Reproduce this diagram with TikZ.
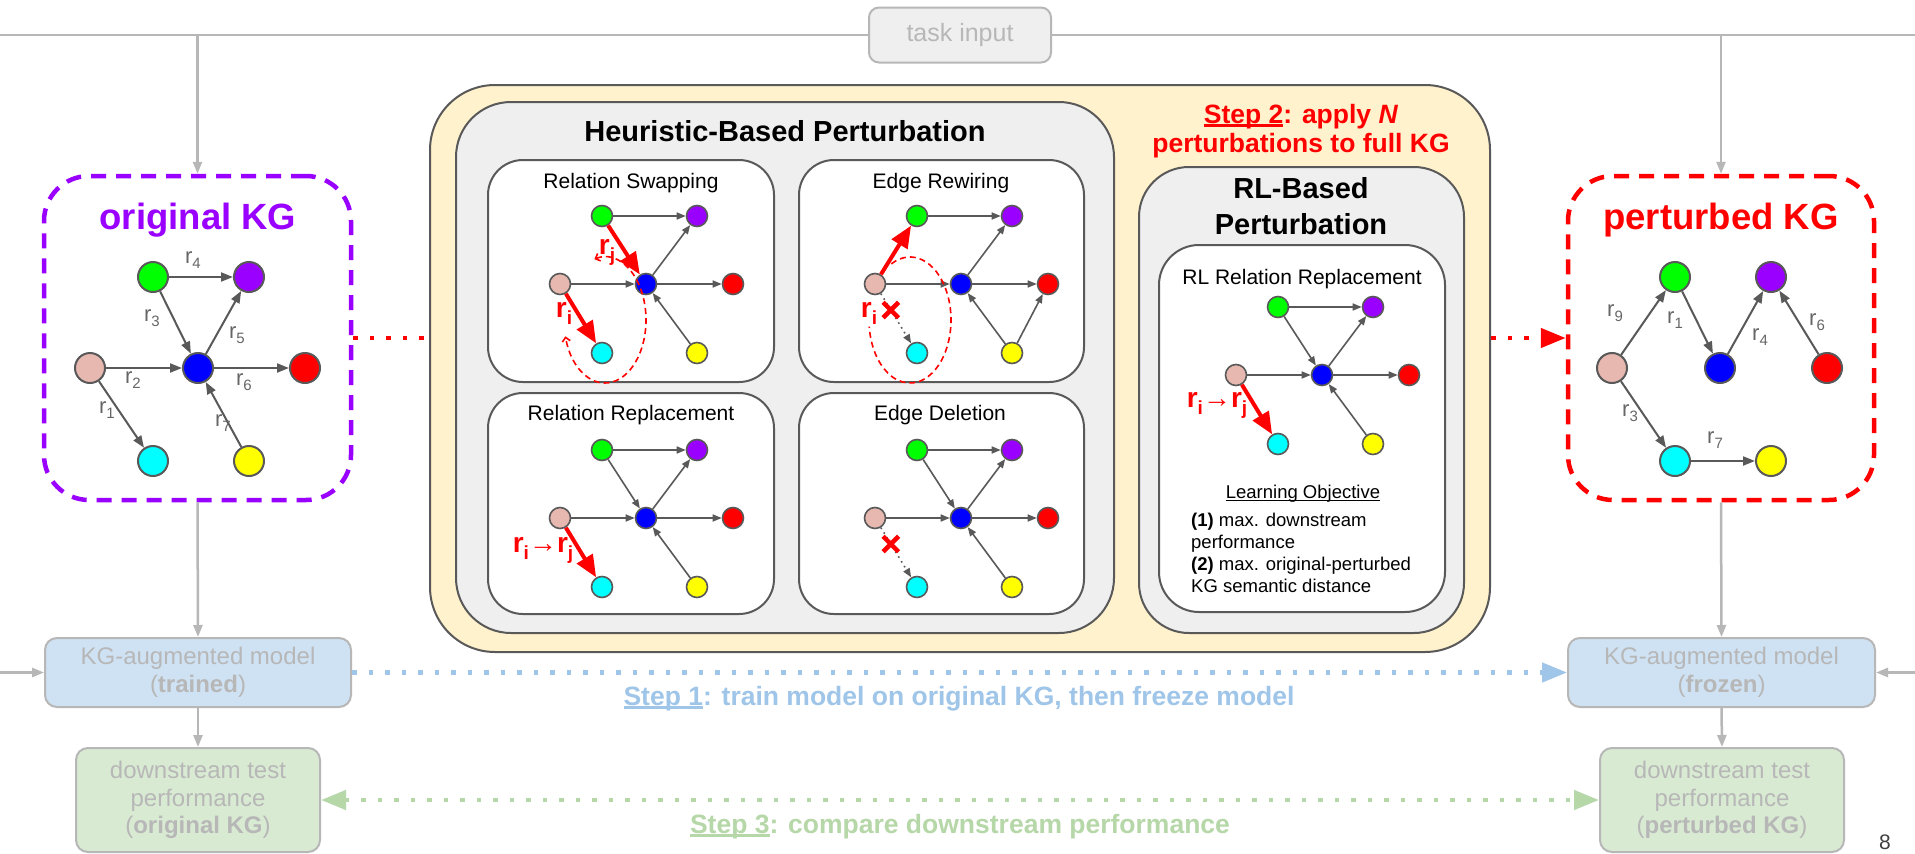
\documentclass[tikz,border=0pt]{standalone}
\usepackage{fontspec}
\setmainfont{Liberation Sans}
\usetikzlibrary{arrows.meta,shapes.misc}

\definecolor{kggreen}{HTML}{00FF00}
\definecolor{kgpurple}{HTML}{9900FF}
\definecolor{kgpink}{HTML}{E6B8AF}
\definecolor{kgblue}{HTML}{0000FF}
\definecolor{kgred}{HTML}{FF0000}
\definecolor{kgcyan}{HTML}{00FFFF}
\definecolor{kgyellow}{HTML}{FFFF00}
\definecolor{edgegray}{HTML}{595959}
\definecolor{labelgray}{HTML}{666666}
\definecolor{flowgray}{HTML}{B7B7B7}
\definecolor{stagefill}{HTML}{FFF2CC}
\definecolor{panelfill}{HTML}{EFEFEF}
\definecolor{modelfill}{HTML}{CFE2F3}
\definecolor{perffill}{HTML}{D9EAD3}
\definecolor{stepblue}{HTML}{9FC5E8}
\definecolor{stepgreen}{HTML}{B6D7A8}
\definecolor{pagegray}{HTML}{404040}

% relation labels with a lowered index
\newcommand{\grel}[1]{r\raisebox{-5pt}{\fontsize{15}{15}\selectfont #1}}
\newcommand{\rrel}[1]{r\raisebox{-7pt}{\fontsize{19}{19}\selectfont #1}}
% underline: thickness, drop, text
\newcommand{\ulbar}[3]{\setbox0\hbox{#3}\rlap{\rule[-#2]{\wd0}{#1}}\box0}

% small seven-entity graph centred on its blue entity
\newcommand{\minigraph}[3]{%
  \node[minode,fill=kggreen]  (#1green)  at (#2-44,#3-68) {};
  \node[minode,fill=kgpurple] (#1purple) at (#2+51,#3-68) {};
  \node[minode,fill=kgpink]   (#1pink)   at (#2-86,#3) {};
  \node[minode,fill=kgblue]   (#1blue)   at (#2,#3) {};
  \node[minode,fill=kgred]    (#1red)    at (#2+87,#3) {};
  \node[minode,fill=kgcyan]   (#1cyan)   at (#2-44,#3+69) {};
  \node[minode,fill=kgyellow] (#1yellow) at (#2+51,#3+69) {};
}
% large seven-entity graph centred on its blue entity
\newcommand{\kggraph}[3]{%
  \node[kgnode,fill=kggreen]  (#1green)  at (#2-45,#3-91) {};
  \node[kgnode,fill=kgpurple] (#1purple) at (#2+51,#3-91) {};
  \node[kgnode,fill=kgpink]   (#1pink)   at (#2-108,#3) {};
  \node[kgnode,fill=kgblue]   (#1blue)   at (#2,#3) {};
  \node[kgnode,fill=kgred]    (#1red)    at (#2+107,#3) {};
  \node[kgnode,fill=kgcyan]   (#1cyan)   at (#2-45,#3+93) {};
  \node[kgnode,fill=kgyellow] (#1yellow) at (#2+51,#3+93) {};
}

\begin{document}
\begin{tikzpicture}[x=1pt,y=-1pt,
  panel/.style={draw=edgegray,line width=2pt,inner sep=0pt},
  subpanel/.style={panel,fill=white,rounded corners=35pt},
  paneltitle/.style={font=\fontsize{29}{34}\selectfont\bfseries,inner sep=0pt,anchor=base},
  subtitle/.style={font=\fontsize{21}{25}\selectfont,inner sep=0pt,anchor=base},
  kgframe/.style={line width=4.5pt,dash pattern=on 15pt off 10pt,rounded corners=45pt,minimum width=307pt,minimum height=324pt,inner sep=0pt},
  kgtitle/.style={font=\fontsize{36.5}{40}\selectfont\bfseries,inner sep=0pt,anchor=base},
  kgnode/.style={circle,draw=edgegray,line width=2pt,minimum size=30pt,inner sep=0pt},
  minode/.style={circle,draw=edgegray,line width=1.6pt,minimum size=21pt,inner sep=0pt},
  kgedge/.style={draw=edgegray,line width=2pt,-{Triangle[length=12pt,width=9pt]}},
  miedge/.style={draw=edgegray,line width=1.6pt,-{Triangle[length=9pt,width=7pt]}},
  rededge/.style={draw=kgred,line width=4pt,-{Triangle[length=22pt,width=18pt]}},
  deledge/.style={draw=edgegray,line width=1.6pt,dash pattern=on 1.6pt off 4pt,-{Triangle[length=9pt,width=7pt]}},
  xmark/.style={cross out,draw=kgred,line width=4.5pt,minimum size=11pt,inner sep=0pt,solid},
  redarc/.style={draw=kgred,line width=1.6pt,dash pattern=on 6pt off 4pt},
  glabel/.style={text=labelgray,font=\fontsize{22}{22}\selectfont,inner sep=0pt},
  rlabel/.style={text=kgred,font=\fontsize{28}{28}\selectfont\bfseries,inner sep=0pt},
  flowline/.style={draw=flowgray,line width=2.5pt},
  flowarrow/.style={flowline,-{Triangle[length=12pt,width=9pt]}},
  flowbox/.style={draw=flowgray,line width=2pt,rounded corners=12pt,align=center,text=flowgray,inner sep=0pt},
  dotrule/.style={line width=4.5pt,dash pattern=on 4.5pt off 12pt},
  bigtip/.style={-{Triangle[length=25pt,width=19pt]}},
  steptext/.style={font=\fontsize{26.5}{30}\selectfont\bfseries,inner sep=0pt,anchor=base},
  objtext/.style={font=\fontsize{18.5}{22}\selectfont,inner sep=0pt,anchor=base west}
]
\fill[white] (0,0) rectangle (1915,854);
\useasboundingbox (0,0) rectangle (1915,854);

% ---- task input and shared feed line ----
\node[flowbox,fill=panelfill,rounded corners=10pt,minimum width=182pt,minimum height=55pt,font=\fontsize{25}{30}\selectfont] (task) at (960,35) {task input};
\coordinate (feedL) at (0,35);
\coordinate (feedR) at (1915,35);
\draw[flowline] (task.west) -- (feedL);
\draw[flowline] (task.east) -- (feedR);

% ---- perturbation stage ----
\node[panel,fill=stagefill,minimum width=1060pt,minimum height=567pt,rounded corners=65pt] (stage) at (960,368.5) {};
\node[panel,fill=panelfill,minimum width=658pt,minimum height=531pt,rounded corners=55pt] (heur) at (785,367.5) {};
\node[panel,fill=panelfill,minimum width=325pt,minimum height=466pt,rounded corners=50pt] (rlpanel) at (1301.5,400) {};
\node[paneltitle] (heurtitle) at (785,141) {Heuristic-Based Perturbation};
\node[paneltitle] (rltitleA) at (1301,198) {RL-Based};
\node[paneltitle] (rltitleB) at (1301,234) {Perturbation};
\node[steptext,text=kgred] (step2a) at (1301,123) {\ulbar{2.5pt}{3.5pt}{Step 2}: apply \textit{N}};
\node[steptext,text=kgred] (step2b) at (1301,152) {perturbations to full KG};

\node[subpanel,minimum width=286pt,minimum height=222pt] (swapbox) at (631,271) {};
\node[subpanel,minimum width=285pt,minimum height=222pt] (rewirebox) at (941.5,271) {};
\node[subpanel,minimum width=286pt,minimum height=221pt] (replbox) at (631,503.5) {};
\node[subpanel,minimum width=285pt,minimum height=221pt] (delbox) at (941.5,503.5) {};
\node[subpanel,rounded corners=40pt,minimum width=286pt,minimum height=367pt] (rlbox) at (1302,428.5) {};
\node[subtitle] (swaptitle) at (631,188) {Relation Swapping};
\node[subtitle] (rewiretitle) at (941,188) {Edge Rewiring};
\node[subtitle] (repltitle) at (631,420) {Relation Replacement};
\node[subtitle] (deltitle) at (940,420) {Edge Deletion};
\node[subtitle] (rltitle) at (1302,284) {RL Relation Replacement};

% relation swapping
\minigraph{rs}{646}{284}
\draw[miedge] (rsgreen) -- (rspurple);
\draw[rededge] (rsgreen) -- (rsblue);
\draw[miedge] (rsblue) -- (rspurple);
\draw[miedge] (rspink) -- (rsblue);
\draw[miedge] (rsblue) -- (rsred);
\draw[rededge] (rspink) -- (rscyan);
\draw[miedge] (rsyellow) -- (rsblue);
\coordinate (rsring) at (605,320);
\draw[redarc,{Straight Barb[length=4pt,width=8pt]}-{Straight Barb[length=4pt,width=8pt]}] ([shift={(105:41pt and 63pt)}]rsring) arc[start angle=105,end angle=-165,x radius=41pt,y radius=63pt];
\node[rlabel] (rsj) at (607,252) {\rrel{j}};
\node[rlabel] (rsi) at (564,313) {\rrel{i}};

% edge rewiring
\minigraph{er}{961}{284}
\draw[miedge] (ergreen) -- (erpurple);
\draw[miedge] (erblue) -- (erpurple);
\draw[miedge] (erpink) -- (erblue);
\draw[miedge] (erblue) -- (erred);
\draw[miedge] (eryellow) -- (erblue);
\draw[miedge] (eryellow) -- (erred);
\draw[rededge] (erpink) -- (ergreen);
\draw[deledge] (erpink) -- node[xmark,pos=0.33] (erx) {} (ercyan);
\coordinate (erring) at (910,320);
\draw[redarc] ([shift={(117:41pt and 63pt)}]erring) arc[start angle=117,end angle=-174,x radius=41pt,y radius=63pt];
\node[rlabel] (eri) at (869,313) {\rrel{i}};

% relation replacement
\minigraph{rr}{646}{518}
\draw[miedge] (rrgreen) -- (rrpurple);
\draw[miedge] (rrgreen) -- (rrblue);
\draw[miedge] (rrblue) -- (rrpurple);
\draw[miedge] (rrpink) -- (rrblue);
\draw[miedge] (rrblue) -- (rrred);
\draw[rededge] (rrpink) -- (rrcyan);
\draw[miedge] (rryellow) -- (rrblue);
\node[rlabel] (rrij) at (543,550) {\rrel{i}{\mdseries →}\rrel{j}};

% edge deletion
\minigraph{ed}{961}{518}
\draw[miedge] (edgreen) -- (edpurple);
\draw[miedge] (edgreen) -- (edblue);
\draw[miedge] (edblue) -- (edpurple);
\draw[miedge] (edpink) -- (edblue);
\draw[miedge] (edblue) -- (edred);
\draw[miedge] (edyellow) -- (edblue);
\draw[deledge] (edpink) -- node[xmark,pos=0.33] (edx) {} (edcyan);

% RL relation replacement
\minigraph{rl}{1322}{375}
\draw[miedge] (rlgreen) -- (rlpurple);
\draw[miedge] (rlgreen) -- (rlblue);
\draw[miedge] (rlblue) -- (rlpurple);
\draw[miedge] (rlpink) -- (rlblue);
\draw[miedge] (rlblue) -- (rlred);
\draw[rededge] (rlpink) -- (rlcyan);
\draw[miedge] (rlyellow) -- (rlblue);
\node[rlabel] (rlij) at (1217,405) {\rrel{i}{\mdseries →}\rrel{j}};
\node[font=\fontsize{18.5}{22}\selectfont,inner sep=0pt,anchor=base] (objhead) at (1303,498) {\ulbar{1.3pt}{3pt}{Learning Objective}};
\node[objtext] (obj1) at (1191,526) {\textbf{(1)} max. downstream};
\node[objtext] (obj2) at (1191,548) {performance};
\node[objtext] (obj3) at (1191,570) {\textbf{(2)} max. original-perturbed};
\node[objtext] (obj4) at (1191,592) {KG semantic distance};

% ---- original knowledge graph ----
\node[kgframe,draw=kgpurple] (origkg) at (197.5,338) {};
\node[kgtitle,text=kgpurple] (origtitle) at (198,229) {original KG};
\kggraph{o}{198}{368}
\draw[kgedge] (ogreen) -- (opurple);
\draw[kgedge] (ogreen) -- (oblue);
\draw[kgedge] (oblue) -- (opurple);
\draw[kgedge] (opink) -- (oblue);
\draw[kgedge] (oblue) -- (ored);
\draw[kgedge] (opink) -- (ocyan);
\draw[kgedge] (oyellow) -- (oblue);
\node[glabel] (or4) at (193,260) {\grel{4}};
\node[glabel] (or3) at (152,318) {\grel{3}};
\node[glabel] (or5) at (237,335) {\grel{5}};
\node[glabel] (or2) at (133,380) {\grel{2}};
\node[glabel] (or6) at (244,382) {\grel{6}};
\node[glabel] (or1) at (107,410) {\grel{1}};
\node[glabel] (or7) at (223,423) {\grel{7}};

% ---- perturbed knowledge graph ----
\node[kgframe,draw=kgred,minimum width=306pt] (pertkg) at (1721,338) {};
\node[kgtitle,text=kgred] (perttitle) at (1721,229) {perturbed KG};
\kggraph{q}{1720}{368}
\draw[kgedge] (qpink) -- (qgreen);
\draw[kgedge] (qgreen) -- (qblue);
\draw[kgedge] (qblue) -- (qpurple);
\draw[kgedge] (qred) -- (qpurple);
\draw[kgedge] (qpink) -- (qcyan);
\draw[kgedge] (qcyan) -- (qyellow);
\node[glabel] (qr9) at (1615,313) {\grel{9}};
\node[glabel] (qr1) at (1675,320) {\grel{1}};
\node[glabel] (qr4) at (1760,337) {\grel{4}};
\node[glabel] (qr6) at (1817,322) {\grel{6}};
\node[glabel] (qr3) at (1630,413) {\grel{3}};
\node[glabel] (qr7) at (1715,440) {\grel{7}};

% ---- models and downstream results ----
\node[flowbox,fill=modelfill,minimum width=306pt,minimum height=69pt,font=\fontsize{24}{28}\selectfont] (modelL) at (198,672.5) {KG-augmented model\\(\textbf{trained})};
\node[flowbox,fill=modelfill,minimum width=307pt,minimum height=69pt,font=\fontsize{24}{28}\selectfont] (modelR) at (1721.5,672.5) {KG-augmented model\\(\textbf{frozen})};
\node[flowbox,fill=perffill,minimum width=244pt,minimum height=104pt,font=\fontsize{24}{27.5}\selectfont] (perfL) at (198,800) {downstream test\\performance\\(\textbf{original KG})};
\node[flowbox,fill=perffill,minimum width=244pt,minimum height=104pt,font=\fontsize{24}{27.5}\selectfont] (perfR) at (1722,800) {downstream test\\performance\\(\textbf{perturbed KG})};

\draw[flowarrow] (origkg.north |- task.west) -- (origkg.north);
\draw[flowarrow] (pertkg.north |- task.east) -- (pertkg.north);
\draw[flowarrow] (origkg.south) -- (modelL.north);
\draw[flowarrow] (pertkg.south) -- (modelR.north);
\draw[flowarrow] (modelL.south) -- (perfL.north);
\draw[flowarrow] (modelR.south) -- (perfR.north);
\coordinate (sideL) at (0,672.5);
\coordinate (sideR) at (1915,672.5);
\draw[flowarrow] (sideL) -- (modelL.west);
\draw[flowarrow] (sideR) -- (modelR.east);

% ---- dotted step connectors ----
\draw[dotrule,draw=kgred] (origkg.east) -- (stage.west |- origkg.east);
\draw[dotrule,draw=kgred,bigtip] (stage.east |- pertkg.west) -- (pertkg.west);
\draw[dotrule,draw=stepblue,bigtip] (modelL.east) -- (modelR.west);
\draw[dotrule,draw=stepgreen,{Triangle[length=25pt,width=19pt]}-{Triangle[length=25pt,width=19pt]}] (perfL.east) -- (perfR.west);
\node[steptext,text=stepblue] (step1) at (959,705) {\ulbar{2.5pt}{3.5pt}{Step 1}: train model on original KG, then freeze model};
\node[steptext,text=stepgreen] (step3) at (960,833) {\ulbar{2.5pt}{3.5pt}{Step 3}: compare downstream performance};

\node[text=pagegray,font=\fontsize{21}{21}\selectfont,inner sep=0pt] (pageno) at (1885,842) {8};
\end{tikzpicture}
\end{document}
